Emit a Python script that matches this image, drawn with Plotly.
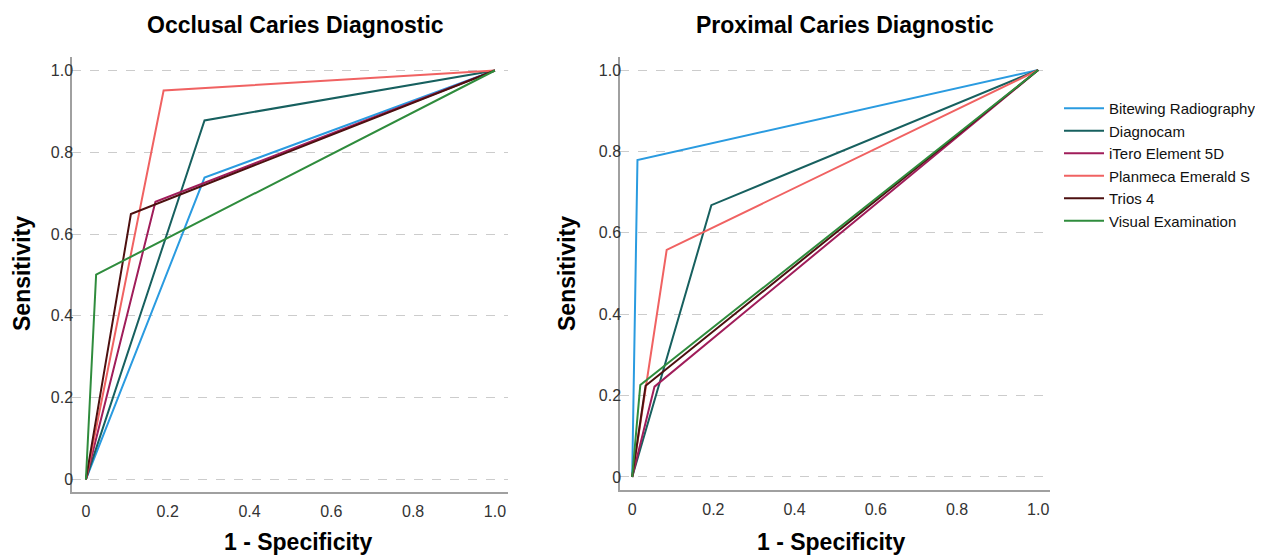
import plotly.graph_objects as go

methods = ["Bitewing Radiography", "Diagnocam", "iTero Element 5D",
           "Planmeca Emerald S", "Trios 4", "Visual Examination"]
colors = ["#2a9be0", "#17605f", "#a01d5a", "#f06262", "#4d1010", "#2f8c3d"]

# ROC knee points (1 - specificity, sensitivity)
occlusal_fpr = [0.29, 0.29, 0.17, 0.19, 0.11, 0.025]
occlusal_sens = [0.738, 0.878, 0.679, 0.951, 0.649, 0.501]
proximal_fpr = [0.013, 0.195, 0.055, 0.085, 0.033, 0.020]
proximal_sens = [0.779, 0.668, 0.222, 0.558, 0.224, 0.226]

tick_vals = [0, 0.2, 0.4, 0.6, 0.8, 1.0]
tick_text = ["0", "0.2", "0.4", "0.6", "0.8", "1.0"]

FONT = "Arial, Liberation Sans, sans-serif"
OFF = 8  # page body margin
W, H = 1263 - OFF, 556 - OFF

fig = go.Figure()
for i, m in enumerate(methods):
    fig.add_trace(go.Scatter(
        x=[0, occlusal_fpr[i], 1], y=[0, occlusal_sens[i], 1],
        mode="lines", line=dict(color=colors[i], width=2),
        name=m, legendgroup=m, showlegend=False, xaxis="x", yaxis="y"))
for i, m in enumerate(methods):
    fig.add_trace(go.Scatter(
        x=[0, proximal_fpr[i], 1], y=[0, proximal_sens[i], 1],
        mode="lines", line=dict(color=colors[i], width=2),
        name=m, legendgroup=m, showlegend=True, xaxis="x2", yaxis="y2"))

def px_x(p):
    return (p - OFF) / W

def px_y(p):
    return 1 - (p - OFF) / H

axis_common = dict(
    showline=True, linecolor="#a0a0a0", linewidth=1.5, mirror=False,
    zeroline=False, ticks="", tickfont=dict(family=FONT, size=16, color="#333333"),
    tickvals=tick_vals, ticktext=tick_text,
)

fig.update_layout(
    width=W, height=H,
    margin=dict(l=0, r=0, t=0, b=0),
    paper_bgcolor="white", plot_bgcolor="white",
    font=dict(family=FONT),
    xaxis=dict(domain=[px_x(72), px_x(508)], range=[-0.034, 1.032],
               showgrid=False, anchor="y", ticklabelstandoff=4, **axis_common),
    yaxis=dict(domain=[px_y(491.7), px_y(57)], range=[-0.030, 1.033],
               showgrid=True, gridcolor="#cccccc", griddash="dash", gridwidth=1,
               anchor="x", ticklabelstandoff=-6, **axis_common),
    xaxis2=dict(domain=[px_x(620), px_x(1050)], range=[-0.030, 1.029],
                showgrid=False, anchor="y2", ticklabelstandoff=4, **axis_common),
    yaxis2=dict(domain=[px_y(490), px_y(57)], range=[-0.032, 1.032],
                showgrid=True, gridcolor="#cccccc", griddash="dash", gridwidth=1,
                anchor="x2", ticklabelstandoff=-6, **axis_common),
    legend=dict(x=px_x(1059), y=px_y(92), xanchor="left", yanchor="top",
                font=dict(family=FONT, size=15, color="#111111"),
                bgcolor="rgba(0,0,0,0)", traceorder="normal", itemwidth=40),
)

ann = []
def add_text(text, x, y, size, bold=True, angle=0):
    ann.append(dict(text=("<b>%s</b>" % text) if bold else text,
                    x=px_x(x), y=px_y(y), xref="paper", yref="paper",
                    xanchor="center", yanchor="middle", showarrow=False,
                    textangle=angle, font=dict(family=FONT, size=size, color="#000000")))

add_text("Occlusal Caries Diagnostic", 295.5, 25, 23)
add_text("Proximal Caries Diagnostic", 845, 25, 23)
add_text("1 - Specificity", 298, 542, 23)
add_text("1 - Specificity", 831, 542, 23)
add_text("Sensitivity", 22, 274, 23, angle=-90)
add_text("Sensitivity", 567, 274, 23, angle=-90)
fig.update_layout(annotations=ann)

fig.write_html("out.html")
